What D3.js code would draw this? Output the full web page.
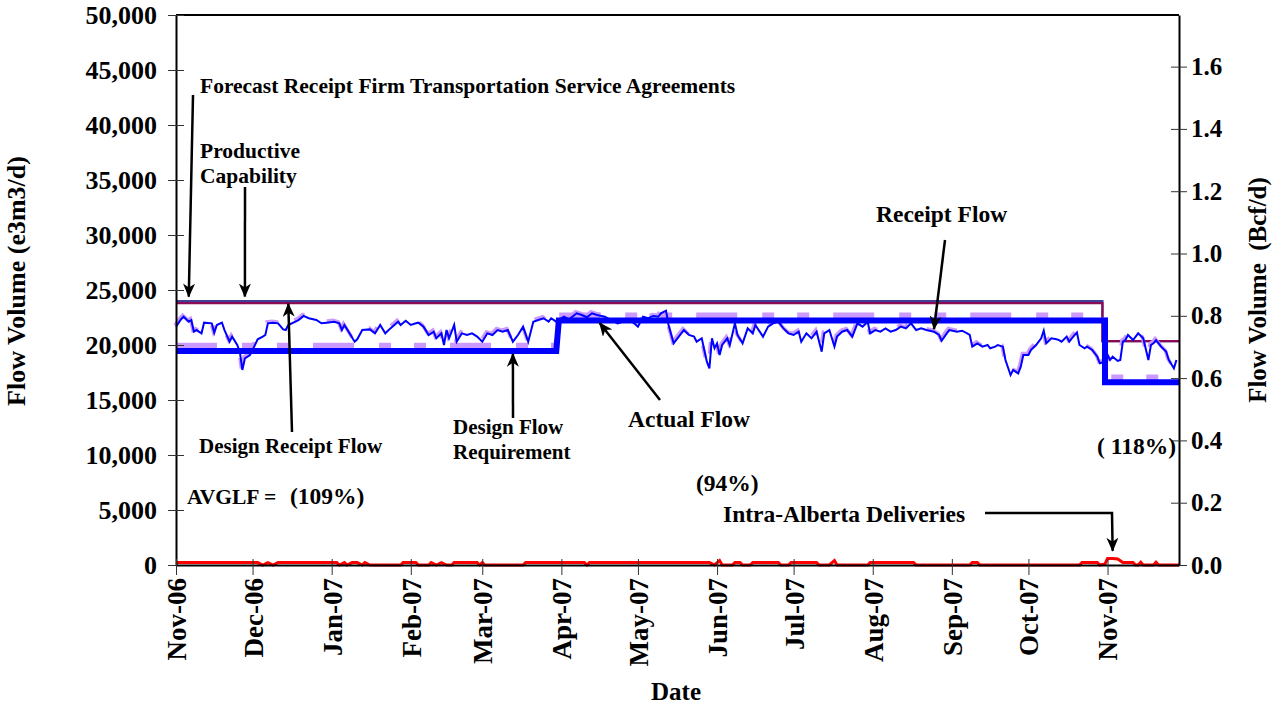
<!DOCTYPE html>
<html>
<head>
<meta charset="utf-8">
<script src="https://cdn.jsdelivr.net/npm/d3@7"></script>
<style>
  body { margin: 0; background: #fff; }
  text { font-family: "Times New Roman", "Liberation Serif", serif; font-weight: bold; fill: #000; }
</style>
</head>
<body>
<main></main>
<script>
// daily receipt flow (e3m3/d)
const actualFlow = [
  ["2006-11-01",21660],["2006-11-03",22340],["2006-11-04",22570],["2006-11-06",22120],["2006-11-07",22270],
  ["2006-11-08",21210],["2006-11-09",21360],["2006-11-11",21060],["2006-11-12",22030],["2006-11-15",21970],
  ["2006-11-16",21120],["2006-11-17",21820],["2006-11-19",22030],["2006-11-20",21360],["2006-11-22",20300],
  ["2006-11-23",20760],["2006-11-25",20000],["2006-11-26",19390],["2006-11-27",17730],["2006-11-28",18790],
  ["2006-11-30",19090],["2006-12-01",19550],["2006-12-03",20520],["2006-12-05",20760],["2006-12-06",20910],
  ["2006-12-07",21970],["2006-12-09",22030],["2006-12-11",21970],["2006-12-13",21420],["2006-12-14",21360],
  ["2006-12-15",21820],["2006-12-19",22270],["2006-12-21",22640],["2006-12-23",22430],["2006-12-26",22270],
  ["2006-12-28",21970],["2006-12-30",22030],["2007-01-02",22120],["2007-01-04",21970],["2007-01-05",21360],
  ["2007-01-06",21820],["2007-01-08",21060],["2007-01-10",20300],["2007-01-11",20520],["2007-01-13",21360],
  ["2007-01-16",21420],["2007-01-18",21060],["2007-01-20",21820],["2007-01-22",21060],["2007-01-24",21510],
  ["2007-01-27",22120],["2007-01-28",21820],["2007-01-30",22210],["2007-02-01",21820],["2007-02-03",21970],
  ["2007-02-04",22030],["2007-02-06",21670],["2007-02-08",20910],["2007-02-10",21210],["2007-02-11",20610],
  ["2007-02-13",21060],["2007-02-14",20000],["2007-02-15",21360],["2007-02-16",20610],["2007-02-18",21820],
  ["2007-02-19",20300],["2007-02-21",21060],["2007-02-23",20910],["2007-02-25",21060],["2007-02-27",20760],
  ["2007-03-01",20300],["2007-03-03",21060],["2007-03-05",20910],["2007-03-07",21360],["2007-03-09",21210],
  ["2007-03-11",21360],["2007-03-13",20300],["2007-03-15",20910],["2007-03-17",21670],["2007-03-19",20300],
  ["2007-03-21",22120],["2007-03-23",22270],["2007-03-25",22430],["2007-03-27",22120],["2007-03-28",22430],
  ["2007-03-30",22120],["2007-04-02",22570],["2007-04-04",22330],["2007-04-07",22880],["2007-04-09",22730],
  ["2007-04-11",22520],["2007-04-13",22880],["2007-04-15",22730],["2007-04-18",22570],["2007-04-20",22330],
  ["2007-04-23",21970],["2007-04-25",22120],["2007-04-28",22270],["2007-05-01",21670],["2007-05-03",22570],
  ["2007-05-05",22430],["2007-05-07",22640],["2007-05-09",22570],["2007-05-10",22880],["2007-05-12",23120],
  ["2007-05-13",21820],["2007-05-15",20150],["2007-05-17",20760],["2007-05-19",21360],["2007-05-21",20910],
  ["2007-05-23",20760],["2007-05-24",20300],["2007-05-26",20610],["2007-05-28",18480],["2007-05-29",17880],
  ["2007-05-30",20610],["2007-05-31",19700],["2007-06-01",20150],["2007-06-02",19090],["2007-06-03",20000],
  ["2007-06-05",20610],["2007-06-06",20000],["2007-06-08",21970],["2007-06-09",20910],["2007-06-11",20150],
  ["2007-06-13",21510],["2007-06-15",21060],["2007-06-16",21820],["2007-06-19",20760],["2007-06-21",21670],
  ["2007-06-23",21970],["2007-06-25",22120],["2007-06-27",21510],["2007-06-29",21060],["2007-07-01",20910],
  ["2007-07-03",21210],["2007-07-04",20300],["2007-07-06",21060],["2007-07-08",20610],["2007-07-10",21210],
  ["2007-07-12",19390],["2007-07-13",21060],["2007-07-15",21360],["2007-07-17",19850],["2007-07-18",20760],
  ["2007-07-20",21210],["2007-07-22",21360],["2007-07-24",20760],["2007-07-26",21970],["2007-07-28",21670],
  ["2007-07-30",22120],["2007-07-31",21060],["2007-08-02",21360],["2007-08-04",21210],["2007-08-06",21510],
  ["2007-08-08",21210],["2007-08-10",21360],["2007-08-12",21670],["2007-08-14",21510],["2007-08-16",21970],
  ["2007-08-18",21360],["2007-08-20",21510],["2007-08-22",21360],["2007-08-25",21210],["2007-08-27",20910],
  ["2007-08-28",20390],["2007-08-30",21060],["2007-08-31",21360],["2007-09-03",21210],["2007-09-05",21300],
  ["2007-09-07",21060],["2007-09-08",20910],["2007-09-09",19850],["2007-09-11",20150],["2007-09-13",19850],
  ["2007-09-15",20000],["2007-09-16",19700],["2007-09-18",19850],["2007-09-19",20000],["2007-09-21",19850],
  ["2007-09-22",18640],["2007-09-24",17270],["2007-09-25",17730],["2007-09-27",17420],["2007-09-28",18030],
  ["2007-09-29",19090],["2007-10-01",19090],["2007-10-02",19550],["2007-10-04",20000],["2007-10-06",20610],
  ["2007-10-07",21300],["2007-10-08",20150],["2007-10-10",20610],["2007-10-12",20520],["2007-10-13",20450],
  ["2007-10-14",20300],["2007-10-16",20760],["2007-10-17",20300],["2007-10-18",20610],["2007-10-20",21150],
  ["2007-10-21",20000],["2007-10-23",19700],["2007-10-24",19850],["2007-10-26",19550],["2007-10-28",18940],
  ["2007-10-29",18340],["2007-10-31",18480],["2007-11-01",19090],["2007-11-02",18640],["2007-11-03",18940],
  ["2007-11-05",18550],["2007-11-06",18640],["2007-11-07",20300],["2007-11-08",20450],["2007-11-09",20910],
  ["2007-11-11",20450],["2007-11-13",21060],["2007-11-15",20610],["2007-11-17",18640],["2007-11-18",20000],
  ["2007-11-19",20150],["2007-11-20",20450],["2007-11-22",19850],["2007-11-24",19390],["2007-11-25",18640],
  ["2007-11-27",17880],["2007-11-28",18640]
]

// step series (e3m3/d)
const forecastFT = [["2006-11-01",24000],["2007-10-30",24000],["2007-10-30",20350],["2007-11-29",20350]]
const productiveCap = [["2006-11-01",23800],["2007-10-30",23800],["2007-10-30",20350],["2007-11-29",20350]]
const designReceipt = [["2006-11-01",19950],["2007-03-30",19950],["2007-03-31",22700],["2007-10-31",22700],["2007-10-31",17070],["2007-11-29",17070]]
const designFlowReq = [["2006-11-01",19450],["2007-03-30",19450],["2007-03-31",22230],["2007-10-31",22230],["2007-10-31",16610],["2007-11-29",16610]]

// intra-Alberta deliveries (e3m3/d)
const intraAlberta = [
  ["2006-11-01",220],["2006-12-03",220],["2006-12-05",0],["2006-12-07",220],["2006-12-09",0],["2006-12-11",220],
  ["2007-01-03",220],["2007-01-04",0],["2007-01-06",220],["2007-01-07",0],["2007-01-09",220],["2007-01-11",220],
  ["2007-01-13",0],["2007-01-14",220],["2007-01-16",0],["2007-01-28",0],["2007-01-29",220],["2007-02-03",220],
  ["2007-02-04",0],["2007-02-08",0],["2007-02-09",220],["2007-02-11",0],["2007-02-13",220],["2007-02-15",0],
  ["2007-02-17",0],["2007-02-18",220],["2007-02-27",220],["2007-02-28",0],["2007-03-01",220],["2007-03-02",0],
  ["2007-03-17",0],["2007-03-18",220],["2007-04-10",220],["2007-04-11",0],["2007-04-12",220],["2007-05-29",220],
  ["2007-05-31",0],["2007-06-02",400],["2007-06-03",0],["2007-06-07",0],["2007-06-08",220],["2007-06-10",220],
  ["2007-06-11",0],["2007-06-14",0],["2007-06-15",220],["2007-06-25",220],["2007-06-26",0],["2007-06-29",0],
  ["2007-06-30",220],["2007-07-10",220],["2007-07-11",0],["2007-07-15",0],["2007-07-17",400],["2007-07-18",0],
  ["2007-07-30",0],["2007-07-31",220],["2007-08-17",220],["2007-08-18",0],["2007-09-08",0],["2007-09-09",220],
  ["2007-09-11",220],["2007-09-12",0],["2007-10-21",0],["2007-10-22",220],["2007-10-28",220],["2007-10-29",0],
  ["2007-10-31",100],["2007-11-01",600],["2007-11-03",600],["2007-11-05",550],["2007-11-07",220],["2007-11-11",220],
  ["2007-11-12",0],["2007-11-13",0],["2007-11-14",250],["2007-11-15",0],["2007-11-19",0],["2007-11-20",250],
  ["2007-11-21",0],["2007-11-29",0]
]

const monthTicks = ["2006-11-01","2006-12-01","2007-01-01","2007-02-01","2007-03-01","2007-04-01","2007-05-01",
  "2007-06-01","2007-07-01","2007-08-01","2007-09-01","2007-10-01","2007-11-01"]
const leftTicks = [0,5000,10000,15000,20000,25000,30000,35000,40000,45000,50000]
const rightTicks = [0,0.2,0.4,0.6,0.8,1.0,1.2,1.4,1.6]

//set dimensions
const svgWidth = 1281
const svgHeight = 708
const plotLeft = 176
const plotRight = 1179
const plotTop = 15
const plotBottom = 565

const parse = d3.utcParse("%Y-%m-%d")
const serif = "'Times New Roman','Liberation Serif',serif"

let svg = d3.select("main")
    .append("svg")
    .attr("width", svgWidth)
    .attr("height", svgHeight)
    .style("background-color", "white")

let defs = svg.append("defs")
defs.append("marker")
    .attr("id", "arrow")
    .attr("viewBox", "0 0 14 12")
    .attr("refX", 13)
    .attr("refY", 6)
    .attr("markerWidth", 14)
    .attr("markerHeight", 12)
    .attr("markerUnits", "userSpaceOnUse")
    .attr("orient", "auto")
    .append("path")
    .attr("d", "M0,0 L14,6 L0,12 L4,6 Z")
    .attr("fill", "black")

//scales
let xScale = d3.scaleUtc()
    .domain([parse("2006-11-01"), parse("2007-11-29")])
    .range([plotLeft, plotRight])

let yScale = d3.scaleLinear()
    .domain([0, 50000])
    .range([plotBottom, plotTop])

// 1 e3m3 = 35.3147 Mcf
let yScaleRight = d3.scaleLinear()
    .domain([0, 50000 * 35.3147 / 1e6])
    .range([plotBottom, plotTop])

let line = d3.line()
    .x(d => xScale(parse(d[0])))
    .y(d => yScale(d[1]))

//series
svg.append("path").datum(forecastFT).attr("d", line)
    .style("fill", "none").style("stroke", "#40409a").style("stroke-width", 2.2)
svg.append("path").datum(productiveCap).attr("d", line)
    .style("fill", "none").style("stroke", "#8a0a55").style("stroke-width", 2.2)
svg.append("path").datum(designReceipt).attr("d", line)
    .style("fill", "none").style("stroke", "#cc99ff").style("stroke-width", 5.5)
    .style("stroke-dasharray", "41,25,12,23,12,24")
svg.append("path").datum(actualFlow).attr("d", line)
    .attr("transform", "translate(-1,-1.5)")
    .style("fill", "none").style("stroke", "#cc99ff").style("stroke-width", 3.5)
    .style("stroke-dasharray", "41,25,12,23,12,24")
svg.append("path").datum(actualFlow).attr("d", line)
    .style("fill", "none").style("stroke", "#0000ff").style("stroke-width", 2)
svg.append("path").datum(designFlowReq).attr("d", line)
    .style("fill", "none").style("stroke", "#0000ff").style("stroke-width", 6)
svg.append("path").datum(intraAlberta).attr("d", line)
    .style("fill", "none").style("stroke", "#ff0000").style("stroke-width", 3)

//frame
svg.append("line").attr("x1", plotLeft).attr("x2", plotRight).attr("y1", plotTop).attr("y2", plotTop)
    .style("stroke", "black").style("stroke-width", 2)

//left axis
let yAxis = svg.append("g")
    .attr("transform", `translate(${plotLeft},0)`)
    .call(d3.axisLeft(yScale).tickValues(leftTicks).tickFormat(d3.format(",")).tickSize(8).tickSizeOuter(0))
yAxis.select(".domain").style("stroke-width", 2)
yAxis.selectAll(".tick line").attr("x1", 8).style("stroke", "#333")
yAxis.selectAll(".tick text")
    .attr("x", -19)
    .style("font-size", "26px")
    .style("font-family", serif)
    .style("font-weight", "bold")

//right axis
let yAxisR = svg.append("g")
    .attr("transform", `translate(${plotRight},0)`)
    .call(d3.axisRight(yScaleRight).tickValues(rightTicks).tickFormat(d3.format(".1f")).tickSize(8).tickSizeOuter(0))
yAxisR.select(".domain").style("stroke-width", 2)
yAxisR.selectAll(".tick line").attr("x1", -8).style("stroke", "#333")
yAxisR.selectAll(".tick text")
    .attr("x", 12)
    .style("font-size", "25px")
    .style("font-family", serif)
    .style("font-weight", "bold")

//bottom axis
let xAxis = svg.append("g")
    .attr("transform", `translate(0,${plotBottom})`)
    .call(d3.axisBottom(xScale).tickValues(monthTicks.map(parse)).tickFormat(d3.utcFormat("%b-%y")).tickSize(10).tickSizeOuter(0))
xAxis.select(".domain").style("stroke-width", 2)
xAxis.selectAll(".tick line").attr("y1", -6).style("stroke", "#333")
xAxis.selectAll(".tick text")
    .attr("transform", "rotate(-90)")
    .attr("x", -13)
    .attr("y", 0)
    .attr("dy", "0.35em")
    .style("text-anchor", "end")
    .style("font-size", "27px")
    .style("font-family", serif)
    .style("font-weight", "bold")

//axis titles
svg.append("text")
    .attr("transform", "translate(676, 700)")
    .style("text-anchor", "middle")
    .style("font-size", "25px")
    .text("Date")

svg.append("text")
    .attr("transform", "translate(25, 281) rotate(-90)")
    .style("text-anchor", "middle")
    .style("font-size", "26px")
    .text("Flow Volume (e3m3/d)")

svg.append("text")
    .attr("transform", "translate(1266, 290) rotate(-90)")
    .style("text-anchor", "middle")
    .style("font-size", "25px")
    .style("white-space", "pre")
    .text("Flow Volume  (Bcf/d)")

//annotations: text lines at pixel positions, arrows pointing at data
let notes = [
  {x: 200, y: 93, size: 21.5, lines: ["Forecast Receipt Firm Transportation Service Agreements"]},
  {x: 200, y: 158, size: 21.5, lines: ["Productive", "Capability"]},
  {x: 199, y: 453, size: 21, lines: ["Design Receipt Flow"]},
  {x: 453, y: 434, size: 21, lines: ["Design Flow", "Requirement"]},
  {x: 628, y: 427, size: 23.5, lines: ["Actual Flow"]},
  {x: 876, y: 222, size: 23.5, lines: ["Receipt Flow"]},
  {x: 187, y: 504, size: 21.5, lines: ["AVGLF = "]},
  {x: 290, y: 504, size: 23.5, lines: ["(109%)"]},
  {x: 696, y: 491, size: 23.5, lines: ["(94%)"]},
  {x: 1097, y: 454, size: 23.5, lines: ["( 118%)"]},
  {x: 723, y: 522, size: 23.5, lines: ["Intra-Alberta Deliveries"]}
]

notes.forEach(n => {
  n.lines.forEach((t, i) => {
    svg.append("text")
      .attr("x", n.x)
      .attr("y", n.y + i * 25)
      .style("font-size", n.size + "px")
      .style("white-space", "pre")
      .text(t)
  })
})

let arrows = [
  {from: [193, 95], to: ["2006-11-06", 24400]},
  {from: [245, 187], to: ["2006-11-28", 24400]},
  {from: [292, 432], to: ["2006-12-15", 23750]},
  {from: [513, 418], to: ["2007-03-13", 19200]},
  {from: [660, 400], to: ["2007-04-16", 22000]},
  {from: [945, 240], to: ["2007-08-25", 21450]},
  {from: [985, 513], via: [1112, 513], to: ["2007-11-03", 1300]}
]

arrows.forEach(a => {
  let pts = [a.from]
  if (a.via) pts.push(a.via)
  pts.push([xScale(parse(a.to[0])), yScale(a.to[1])])
  svg.append("path")
    .attr("d", d3.line()(pts))
    .style("fill", "none")
    .style("stroke", "black")
    .style("stroke-width", 2.5)
    .attr("marker-end", "url(#arrow)")
})
</script>
</body>
</html>
